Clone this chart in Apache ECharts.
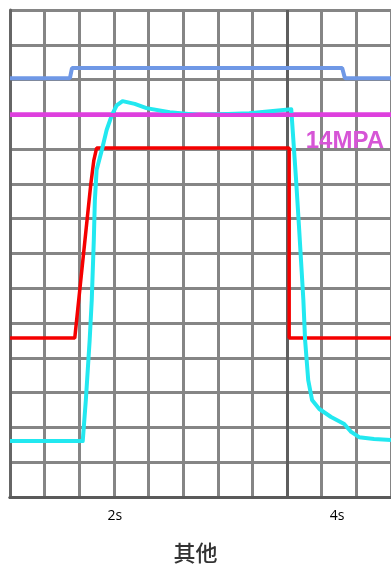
<!DOCTYPE html>
<html>
<head>
<meta charset="utf-8">
<script src="https://cdn.jsdelivr.net/npm/echarts@6/dist/echarts.min.js"></script>
<style>
  html, body { margin: 0; padding: 0; background: #fff; }
  #chart { width: 391px; height: 569px; }
</style>
</head>
<body>
<div id="chart"></div>
<script>
// values are read in scope divisions (x: 0-11, y: 0-14)
const blueX = [0, 1.73, 1.79, 9.59, 9.67, 11];
const blueY = [12.04, 12.04, 12.33, 12.33, 12.04, 12.04];

const redX = [0, 1.87, 2.33, 2.42, 2.5, 8.06, 8.06, 11];
const redY = [4.57, 4.57, 8.97, 9.68, 10.03, 10.03, 4.57, 4.57];

const cyanX = [0, 2.1, 2.19, 2.3, 2.36, 2.42, 2.45, 2.5, 2.65, 2.79, 2.94, 3.08, 3.25, 3.6, 3.94, 4.61, 5.47, 6.91, 8.12,
  8.26, 8.35, 8.47, 8.52, 8.61, 8.72, 8.93, 9.27, 9.65, 9.85, 10.08, 10.51, 11];
const cyanY = [1.61, 1.61, 2.79, 4.51, 5.66, 7.39, 8.53, 9.4, 9.97, 10.55, 10.98, 11.26, 11.38, 11.3, 11.18, 11.06, 10.98, 11.03, 11.15,
  9.11, 7.67, 5.66, 4.51, 3.36, 2.79, 2.53, 2.3, 2.1, 1.87, 1.72, 1.67, 1.64];

const pressureLevel = 11;
const pressureLabel = "14MPA";

const timeTicks = [2, 4];
const title = "其他";

const pairs = (xs, ys) => xs.map((x, i) => [x, ys[i]]);

const chart = echarts.init(document.getElementById("chart"), null, { renderer: "canvas" });

const gridGray = "#858585";
const vColors = [];
for (let i = 0; i <= 11; i++) vColors.push(i === 8 ? "#5e5e5e" : gridGray);

const magenta = "#de3fde";

const option = {
  animation: false,
  title: {
    text: title,
    left: "center",
    top: 537,
    textStyle: {
      fontFamily: "Noto Sans CJK SC",
      fontSize: 22,
      fontWeight: 500,
      color: "#333333",
    },
  },
  grid: {
    left: 10,
    top: 10,
    right: -1,
    bottom: 72,
    containLabel: false,
  },
  xAxis: [
    {
      type: "value",
      position: "top",
      min: 0,
      max: 11,
      interval: 1,
      axisLine: { show: true, lineStyle: { color: "#6a6a6a", width: 3 } },
      axisTick: { show: false },
      axisLabel: { show: false },
      splitLine: { show: true, lineStyle: { color: vColors, width: 3 } },
    },
    {
      type: "value",
      position: "bottom",
      min: 1.0583,
      max: 4.484,
      axisLine: { show: true, lineStyle: { color: "#5a5a5a", width: 3 } },
      axisTick: { show: false },
      splitLine: { show: false },
      axisLabel: {
        customValues: timeTicks,
        formatter: "{value}s",
        color: "#000000",
        fontFamily: "Open Sans",
        fontSize: 14,
        margin: 12,
      },
    },
  ],
  yAxis: {
    type: "value",
    min: 0,
    max: 14,
    interval: 1,
    axisLine: { show: true, lineStyle: { color: "#666666", width: 3 } },
    axisTick: { show: false },
    axisLabel: { show: false },
    splitLine: { show: true, lineStyle: { color: gridGray, width: 3 } },
  },
  series: [
    {
      type: "line",
      data: pairs(blueX, blueY),
      showSymbol: false,
      lineStyle: { color: "#6f98e6", width: 4 },
    },
    {
      type: "line",
      data: [[0, pressureLevel], [11, pressureLevel]],
      showSymbol: false,
      lineStyle: { color: magenta, width: 4 },
      markLine: {
        silent: true,
        symbol: ["none", "none"],
        lineStyle: { color: magenta, width: 4, type: "solid" },
        data: [{ yAxis: pressureLevel }],
        label: {
          show: true,
          position: "insideEndBottom",
          formatter: pressureLabel,
          color: "#d655d6",
          fontFamily: "Liberation Sans",
          fontWeight: "bold",
          fontSize: 24,
          distance: [7, 15],
        },
      },
    },
    {
      type: "line",
      data: pairs(redX, redY),
      showSymbol: false,
      lineStyle: { color: "#f50000", width: 3.5 },
    },
    {
      type: "line",
      data: pairs(cyanX, cyanY),
      showSymbol: false,
      lineStyle: { color: "#22e8f0", width: 4, join: "round" },
    },
  ],
};

chart.setOption(option);
</script>
</body>
</html>
